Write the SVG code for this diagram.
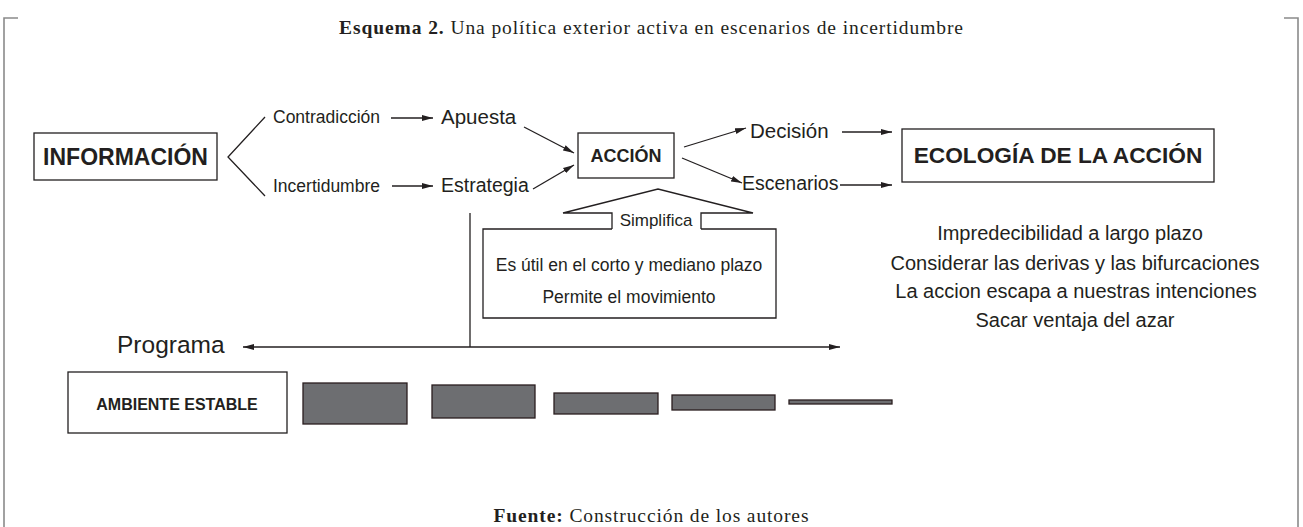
<svg xmlns="http://www.w3.org/2000/svg" width="1303" height="527" viewBox="0 0 1303 527">
<defs>
<marker id="ah" markerUnits="userSpaceOnUse" markerWidth="12" markerHeight="7" refX="11" refY="3.5" orient="auto-start-reverse"><path d="M0,0.5 L11,3.5 L0,6.5 z" fill="#231f20"/></marker>
<style>
.s{font-family:"Liberation Sans",Arial,sans-serif;fill:#231f20}
.b{font-weight:bold}
.m{text-anchor:middle}
.f{font-family:"Liberation Serif","Times New Roman",serif;fill:#231f20}
.box{fill:#fff;stroke:#231f20;stroke-width:1.3}
.ln{fill:none;stroke:#231f20;stroke-width:1.3}
.ar{fill:none;stroke:#231f20;stroke-width:1.3;marker-end:url(#ah)}
.bar{fill:#6d6e71;stroke:#2a1e1f;stroke-width:1.3}
.frame{fill:none;stroke:#8a8a8a;stroke-width:1.6}
</style>
</defs>
<rect width="1303" height="527" fill="#fff"/>
<g id="frame">
<path class="frame" d="M18,18 H4 V527"/>
<path class="frame" d="M1284,18 H1298 V527"/>
</g>
<g id="title"><text class="f" x="651" y="34" font-size="19.5" text-anchor="middle" textLength="624" lengthAdjust="spacing"><tspan font-weight="bold">Esquema 2.</tspan> Una política exterior activa en escenarios de incertidumbre</text></g>
<g id="connectors">
<polyline class="ln" points="265,117 228,157 265,196"/>
<line class="ar" x1="391" y1="118" x2="433" y2="118"/>
<line class="ar" x1="392" y1="186" x2="433" y2="186"/>
<line class="ar" x1="524" y1="127" x2="574" y2="153"/>
<line class="ar" x1="533" y1="189" x2="574" y2="165"/>
<line class="ar" x1="684" y1="147" x2="746" y2="128"/>
<line class="ar" x1="682" y1="158" x2="742" y2="183"/>
<line class="ar" x1="842" y1="132" x2="892" y2="132"/>
<line class="ar" x1="840" y1="185" x2="892" y2="185"/>
<line class="ln" x1="470" y1="213" x2="470" y2="347"/>
<line class="ln" x1="243" y1="347" x2="840" y2="347" marker-start="url(#ah)" marker-end="url(#ah)"/>
</g>
<g id="informacion">
<rect class="box" x="34" y="133" width="183" height="47"/>
<text class="s b m" x="125.5" y="165" font-size="23">INFORMACIÓN</text>
</g>
<g id="contradiccion"><text class="s" x="273" y="123" font-size="17.5">Contradicción</text></g>
<g id="incertidumbre"><text class="s" x="273" y="192" font-size="17.5">Incertidumbre</text></g>
<g id="apuesta"><text class="s" x="441" y="124" font-size="20.5">Apuesta</text></g>
<g id="estrategia"><text class="s" x="441" y="192" font-size="19.5">Estrategia</text></g>
<g id="accion">
<rect class="box" x="578" y="133" width="96" height="45"/>
<text class="s b m" x="626" y="162" font-size="18">ACCIÓN</text>
</g>
<g id="decision"><text class="s" x="750" y="138" font-size="20.5">Decisión</text></g>
<g id="escenarios"><text class="s" x="742" y="190" font-size="19.5">Escenarios</text></g>
<g id="ecologia">
<rect class="box" x="902" y="129" width="312" height="53"/>
<text class="s b m" x="1058" y="163" font-size="22.7">ECOLOGÍA DE LA ACCIÓN</text>
</g>
<g id="ecologia-notes" class="s m" font-size="20">
<text x="1070" y="240">Impredecibilidad a largo plazo</text>
<text x="1075" y="270">Considerar las derivas y las bifurcaciones</text>
<text x="1076" y="298">La accion escapa a nuestras intenciones</text>
<text x="1075" y="327">Sacar ventaja del azar</text>
</g>
<g id="simplifica">
<polyline class="ln" points="612,229 612,213 563,213 658,189 753,213 701,213 701,229"/>
<text class="s m" x="656" y="226" font-size="17">Simplifica</text>
</g>
<g id="corto-plazo">
<path class="ln" d="M612,229 H483 V318 H776 V229 H701"/>
<text class="s m" x="629" y="271" font-size="17.5">Es útil en el corto y mediano plazo</text>
<text class="s m" x="629" y="303" font-size="17.5">Permite el movimiento</text>
</g>
<g id="programa"><text class="s" x="117" y="353" font-size="24.5">Programa</text></g>
<g id="ambiente">
<rect class="box" x="68" y="372" width="219" height="61"/>
<text class="s b m" x="177" y="410" font-size="16">AMBIENTE ESTABLE</text>
</g>
<g id="bars">
<rect class="bar" x="303" y="383" width="104" height="41"/>
<rect class="bar" x="432" y="385" width="103" height="33"/>
<rect class="bar" x="554" y="393" width="104" height="21"/>
<rect class="bar" x="672" y="395" width="103" height="15"/>
<rect class="bar" x="789" y="400" width="103" height="4"/>
</g>
<g id="fuente"><text class="f" x="651" y="522" font-size="19.5" text-anchor="middle" textLength="315" lengthAdjust="spacing"><tspan font-weight="bold">Fuente:</tspan>  Construcción de los autores</text></g>
</svg>
